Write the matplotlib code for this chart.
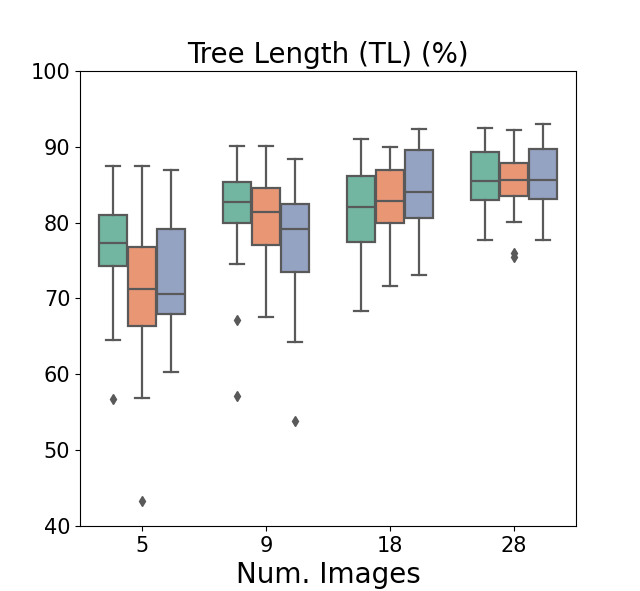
import colorsys
import matplotlib
matplotlib.use("Agg")
import matplotlib.pyplot as plt
import seaborn as sns

categories = ["5", "9", "18", "28"]
n_hue = 3

# per category, per hue: [whislo, q1, med, q3, whishi]
whislo = [[64.5, 56.9, 60.35], [74.5, 67.5, 64.3], [68.35, 71.7, 73.1], [77.75, 80.13, 77.75]]
q1 = [[74.3, 66.4, 68.0], [80.0, 77.05, 73.5], [77.4, 80.0, 80.65], [82.95, 83.56, 83.16]]
med = [[77.3, 71.3, 70.6], [82.7, 81.45, 79.1], [82.07, 82.8, 84.1], [85.45, 85.67, 85.6]]
q3 = [[81.0, 76.8, 79.1], [85.3, 84.6, 82.5], [86.15, 86.95, 89.6], [89.3, 87.87, 89.7]]
whishi = [[87.5, 87.4, 87.0], [90.15, 90.15, 88.4], [91.03, 90.0, 92.35], [92.5, 92.2, 93.0]]
fliers = [[[56.7], [43.3], []], [[67.1, 57.2], [], [53.9]], [[], [], []], [[], [76.0, 75.4], []]]

pal = [sns.desaturate(c, 0.75) for c in sns.color_palette("Set2", n_hue)]
lum = min(colorsys.rgb_to_hls(*c)[1] for c in pal) * 0.6
gray = (lum, lum, lum)

fig, ax = plt.subplots(figsize=(6.4, 5.91), dpi=100)
width = 0.7
each = width / n_hue
offsets = [-each, 0, each]
lw = 1.6

for h in range(n_hue):
    stats = []
    positions = []
    for i in range(len(categories)):
        stats.append(dict(whislo=whislo[i][h], q1=q1[i][h], med=med[i][h],
                          q3=q3[i][h], whishi=whishi[i][h], fliers=fliers[i][h]))
        positions.append(i + offsets[h])
    ax.bxp(stats, positions=positions, widths=each * 0.98, patch_artist=True,
           showfliers=True, manage_ticks=False,
           boxprops=dict(facecolor=pal[h], edgecolor=gray, linewidth=lw),
           medianprops=dict(color=gray, linewidth=lw),
           whiskerprops=dict(color=gray, linewidth=lw),
           capprops=dict(color=gray, linewidth=lw),
           flierprops=dict(marker="d", markerfacecolor=gray, markeredgecolor=gray,
                           markersize=5, linestyle="none"))

ax.set_xticks(range(len(categories)))
ax.set_xticklabels(categories)
ax.set_xlim(-0.5, len(categories) - 0.5)
ax.set_ylim(40, 100)
ax.tick_params(labelsize=15)
ax.set_title("Tree Length (TL) (%)", fontsize=20)
ax.set_xlabel("Num. Images", fontsize=20)
fig.savefig("out.png", dpi=100)
